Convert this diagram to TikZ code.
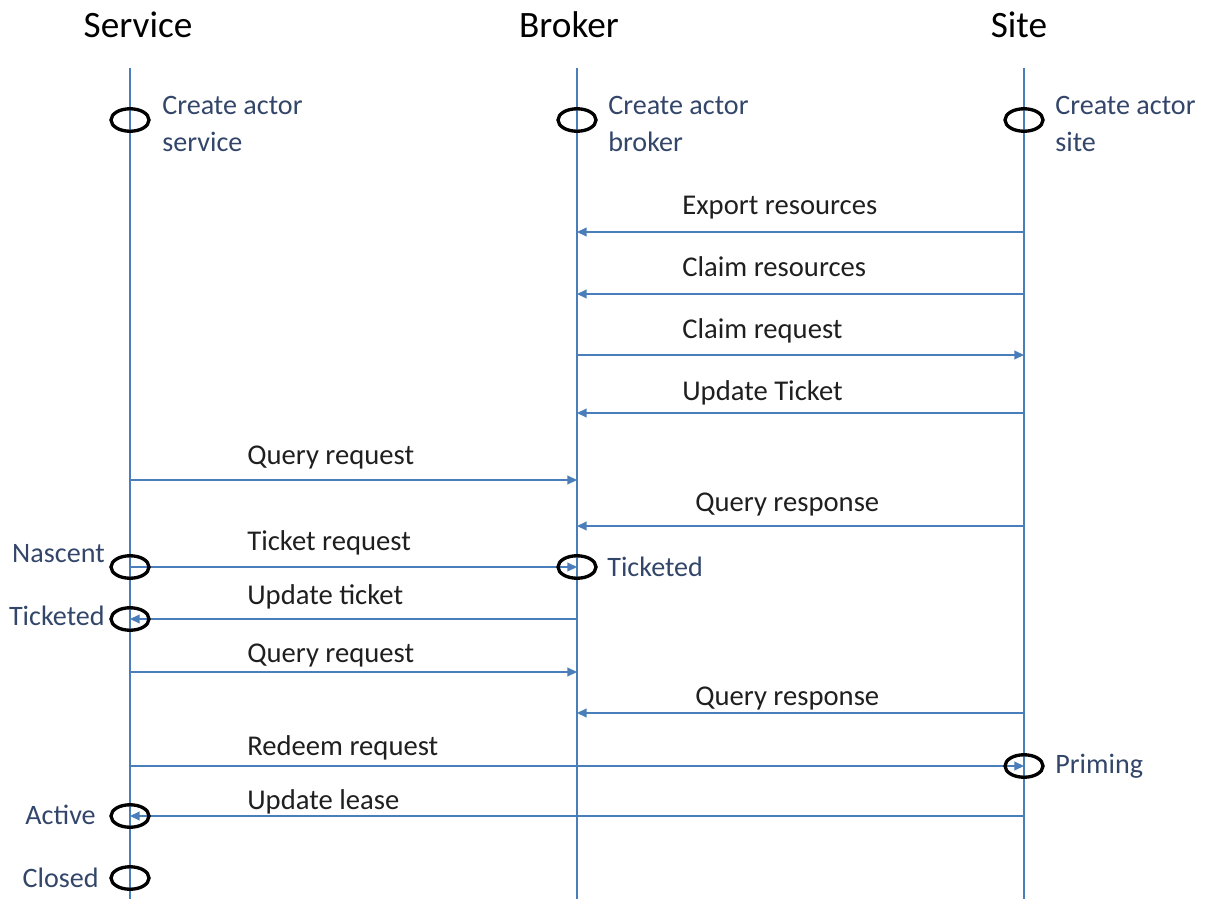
\documentclass[tikz,border=0pt]{standalone}
\usepackage{fontspec}
\setmainfont{Carlito}
\usetikzlibrary{arrows.meta, shapes.geometric}
\definecolor{lifeblue}{HTML}{4A7EBB}
\definecolor{statetext}{HTML}{33466A}
\tikzset{
  % Actor headers
  header/.style={font=\fontsize{21.2}{25}\selectfont, inner sep=0pt},
  % Lifelines
  lifeline/.style={draw=lifeblue, line width=1.1pt},
  % Messages
  msg/.style={draw=lifeblue, line width=0.8pt,
    -{Triangle[length=5.5pt,width=5pt]}},
  msglabel/.style={font=\fontsize{16.3}{19}\selectfont, text=black!88,
    anchor=base west, inner sep=0pt},
  % States
  stateoval/.style={draw=black, ellipse, line width=1.9pt,
    minimum width=0.76cm, minimum height=0.45cm, inner sep=0pt},
  statelabel/.style={font=\fontsize{16}{21}\selectfont, text=statetext,
    align=left, inner sep=0pt},
}

\begin{document}
\begin{tikzpicture}[x=0.02cm, y=-0.02cm]
  \useasboundingbox (0,0) rectangle (1208,899);

  %% -- Actors --
  \node[header] (service) at (138,25) {Service};
  \node[header] (broker)  at (569,25) {Broker};
  \node[header] (site)    at (1019,25) {Site};

  %% -- Lifelines --
  \coordinate (srv)    at (130,68);
  \coordinate (srvEnd) at (130,899);
  \coordinate (brk)    at (577,68);
  \coordinate (brkEnd) at (577,899);
  \coordinate (ste)    at (1024,68);
  \coordinate (steEnd) at (1024,899);
  \draw[lifeline] (srv) -- (srvEnd);
  \draw[lifeline] (brk) -- (brkEnd);
  \draw[lifeline] (ste) -- (steEnd);

  %% -- Messages --
  \draw[msg] (ste |- 0,232) -- (brk |- 0,232);
  \node[msglabel] (exportL) at (682,214) {Export resources};
  \draw[msg] (ste |- 0,294) -- (brk |- 0,294);
  \node[msglabel] (claimresL) at (682,276) {Claim resources};
  \draw[msg] (brk |- 0,355) -- (ste |- 0,355);
  \node[msglabel] (claimreqL) at (682,338) {Claim request};
  \draw[msg] (ste |- 0,413) -- (brk |- 0,413);
  \node[msglabel] (updTicketL) at (682,400) {Update Ticket};
  \draw[msg] (srv |- 0,480) -- (brk |- 0,480);
  \node[msglabel] (queryreqL) at (247,464) {Query request};
  \draw[msg] (ste |- 0,526) -- (brk |- 0,526);
  \node[msglabel] (queryrespL) at (695,511) {Query response};
  \draw[msg] (srv |- 0,567) -- (brk |- 0,567);
  \node[msglabel] (ticketreqL) at (247,550) {Ticket request};
  \draw[msg] (brk |- 0,619) -- (srv |- 0,619);
  \node[msglabel] (updticketL) at (247,604) {Update ticket};
  \draw[msg] (srv |- 0,672) -- (brk |- 0,672);
  \node[msglabel] (queryreqbL) at (247,662) {Query request};
  \draw[msg] (ste |- 0,713) -- (brk |- 0,713);
  \node[msglabel] (queryrespbL) at (695,705) {Query response};
  \draw[msg] (srv |- 0,766) -- (ste |- 0,766);
  \node[msglabel] (redeemL) at (247,755) {Redeem request};
  \draw[msg] (ste |- 0,816) -- (srv |- 0,816);
  \node[msglabel] (leaseL) at (247,809) {Update lease};

  %% -- States --
  \node[stateoval] (srvCreate) at (130,120) {};
  \node[stateoval] (brkCreate) at (577,120) {};
  \node[stateoval] (steCreate) at (1024,120) {};
  \node[statelabel, anchor=west] (srvCreateL) at (162,124) {Create actor\\service};
  \node[statelabel, anchor=west] (brkCreateL) at (608,124) {Create actor\\broker};
  \node[statelabel, anchor=west] (steCreateL) at (1055,124) {Create actor\\site};

  \node[stateoval] (nascent)   at (130,567) {};
  \node[statelabel, anchor=east] (nascentL) at (105,554) {Nascent};
  \node[stateoval] (brkTicket) at (577,567) {};
  \node[statelabel, anchor=west] (brkTicketL) at (607,567) {Ticketed};
  \node[stateoval] (srvTicket) at (130,619) {};
  \node[statelabel, anchor=east] (srvTicketL) at (105,616) {Ticketed};
  \node[stateoval] (priming)   at (1024,766) {};
  \node[statelabel, anchor=west] (primingL) at (1055,766) {Priming};
  \node[stateoval] (active)    at (130,816) {};
  \node[statelabel, anchor=east] (activeL) at (96,815) {Active};
  \node[stateoval] (closed)    at (130,878) {};
  \node[statelabel, anchor=east] (closedL) at (99,878) {Closed};
\end{tikzpicture}
\end{document}
